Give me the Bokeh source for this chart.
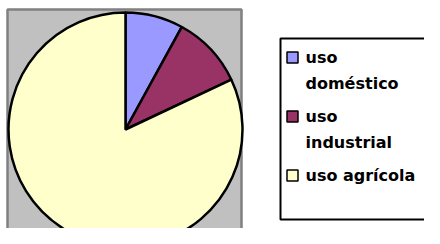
import numpy as np
from bokeh.plotting import figure
from bokeh.models import Range1d, ColumnDataSource
from bokeh.core.properties import value
from bokeh.embed import file_html
from bokeh.resources import INLINE

# ---- data ----
categories = ["uso\ndoméstico", "uso\nindustrial", "uso agrícola"]
shares = [8, 10, 82]
colors = ["#9999FF", "#993366", "#FFFFCC"]

W, H = 424, 228
p = figure(width=W, height=H, output_backend="svg", toolbar_location=None,
           x_range=Range1d(0, W), y_range=Range1d(0, H),
           min_border=0, outline_line_color=None, background_fill_color="white",
           border_fill_color="white")
p.xaxis.visible = False
p.yaxis.visible = False
p.xgrid.visible = False
p.ygrid.visible = False

def px(x):  # reference x -> data
    return x
def py(y):  # reference y -> data
    return H - y

# plot-area box
p.quad(left=[px(7)], right=[px(241)], top=[py(9)], bottom=[py(260)],
       fill_color="#C0C0C0", line_color="#808080", line_width=2.5)

# pie
vals = np.array(shares, dtype=float)
frac = vals / vals.sum()
cum = np.concatenate([[0], np.cumsum(frac)])
start = np.pi / 2 - cum[:-1] * 2 * np.pi
end = np.pi / 2 - cum[1:] * 2 * np.pi
src = ColumnDataSource(dict(start=start, end=end, color=colors))
p.wedge(x=px(125), y=py(129), radius=117, radius_units="screen",
        start_angle="start", end_angle="end", direction="clock",
        fill_color="color", line_color="black", line_width=2.5, source=src)

# legend box
p.quad(left=[px(280)], right=[px(470)], top=[py(38)], bottom=[py(219)],
       fill_color="white", line_color="black", line_width=2)

line_h = 26
gap = 7
y0 = 57
tx, ty, tt = [], [], []
sx, sy = [], []
y = y0
for cat in categories:
    lines = cat.split("\n")
    sx.append(px(292))
    sy.append(py(y))
    for i, ln in enumerate(lines):
        tx.append(px(305))
        ty.append(py(y + i * line_h))
        tt.append(ln)
    y += len(lines) * line_h + gap

p.scatter(x=sx, y=sy, marker="square", size=11, fill_color=colors,
          line_color="black", line_width=1.5)
p.text(x=tx, y=ty, text=tt, text_font=value("DejaVu Sans"), text_font_style="bold",
       text_font_size="16px", text_baseline="middle", text_align="left", text_color="black")

open("out.html", "w").write(file_html(p, INLINE))
